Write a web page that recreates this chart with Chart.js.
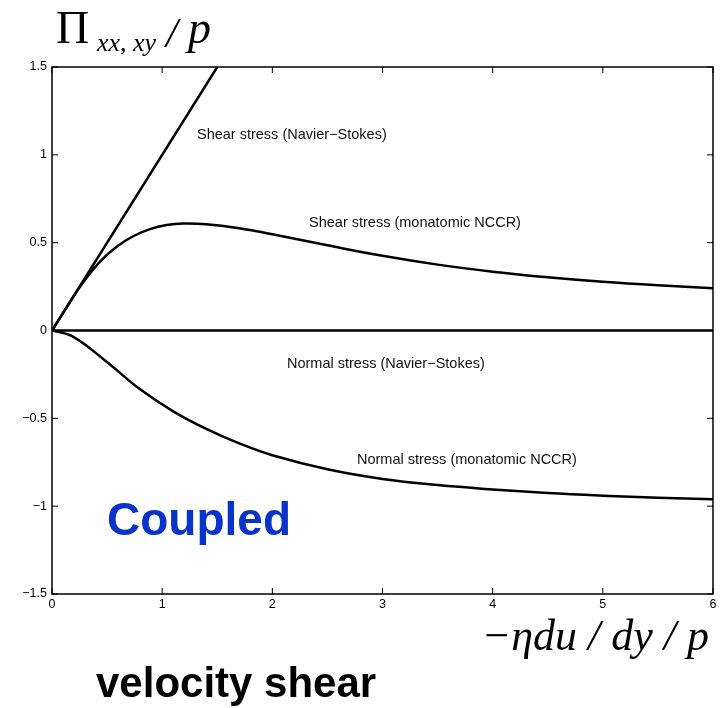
<!DOCTYPE html>
<html>
<head>
<meta charset="utf-8">
<style>
  html, body { margin: 0; padding: 0; background: #fff; }
  canvas { display: block; }
</style>
<script src="https://cdn.jsdelivr.net/npm/chart.js@4/dist/chart.umd.min.js"></script>
</head>
<body>
<canvas id="stressChart" width="720" height="708"></canvas>
<script>
// values
const xTicks = [0, 1, 2, 3, 4, 5, 6];
const yTicks = [-1.5, -1, -0.5, 0, 0.5, 1, 1.5];

const nsShearX = [0, 1.5];
const nsShearY = [0, 1.5];

const nccrShearX = [0, 0.15, 0.28, 0.44, 0.59, 0.74, 0.89, 1.04, 1.19, 1.4, 1.7, 2.0, 2.5, 3.0, 3.5, 4.0, 4.5, 5.0, 5.5, 6.0];
const nccrShearY = [0, 0.149, 0.272, 0.395, 0.478, 0.538, 0.577, 0.600, 0.609, 0.605, 0.582, 0.548, 0.485, 0.425, 0.375, 0.335, 0.303, 0.277, 0.257, 0.241];

const nsNormalX = [0, 6];
const nsNormalY = [0, 0];

const nccrNormalX = [0, 0.19, 0.49, 0.8, 1.1, 1.4, 1.71, 2.0, 2.5, 3.0, 3.5, 4.0, 4.5, 5.0, 5.5, 6.0];
const nccrNormalY = [0, -0.035, -0.175, -0.335, -0.46, -0.56, -0.645, -0.71, -0.79, -0.845, -0.88, -0.905, -0.925, -0.94, -0.952, -0.96];

const curveNames = [
    "Shear stress (Navier\u2212Stokes)",
    "Shear stress (monatomic NCCR)",
    "Normal stress (Navier\u2212Stokes)",
    "Normal stress (monatomic NCCR)"
];

function toPoints(xs, ys) {
    return xs.map((x, i) => ({ x: x, y: ys[i] }));
}

function fmt(v) {
    return v < 0 ? "\u2212" + Math.abs(v) : String(v);
}

// frame, inside ticks and all the text round the plot
const decorations = {
    id: "decorations",
    afterDraw(chart) {
        const ctx = chart.ctx;
        const a = chart.chartArea;
        const sx = chart.scales.x;
        const sy = chart.scales.y;
        ctx.save();
        ctx.strokeStyle = "#000";
        ctx.lineWidth = 1.5;
        ctx.strokeRect(a.left, a.top, a.right - a.left, a.bottom - a.top);

        const t = 6;
        ctx.lineWidth = 1;
        ctx.beginPath();
        xTicks.forEach(v => {
            const px = sx.getPixelForValue(v);
            ctx.moveTo(px, a.bottom); ctx.lineTo(px, a.bottom - t);
            ctx.moveTo(px, a.top); ctx.lineTo(px, a.top + t);
        });
        yTicks.forEach(v => {
            const py = sy.getPixelForValue(v);
            ctx.moveTo(a.left, py); ctx.lineTo(a.left + t, py);
            ctx.moveTo(a.right, py); ctx.lineTo(a.right - t, py);
        });
        ctx.stroke();

        // curve labels, placed in data units
        ctx.fillStyle = "#111";
        ctx.font = "14.5px 'Liberation Sans', Arial, sans-serif";
        ctx.textBaseline = "middle";
        ctx.textAlign = "left";
        const spots = [[1.316, 1.114], [2.333, 0.613], [2.133, -0.19], [2.768, -0.737]];
        curveNames.forEach((name, i) => {
            ctx.fillText(name, sx.getPixelForValue(spots[i][0]), sy.getPixelForValue(spots[i][1]));
        });

        // y title  Pi_{xx,xy} / p
        ctx.fillStyle = "#000";
        ctx.textBaseline = "alphabetic";
        ctx.font = "46px 'Liberation Serif', 'Times New Roman', serif";
        ctx.fillText("\u03A0", 56, 43);
        ctx.font = "italic 26px 'Liberation Serif', 'Times New Roman', serif";
        ctx.fillText("xx, xy", 97, 51);
        ctx.font = "italic 42px 'Liberation Serif', 'Times New Roman', serif";
        ctx.fillText("/", 166, 47);
        ctx.font = "italic 46px 'Liberation Serif', 'Times New Roman', serif";
        ctx.fillText("p", 188, 43);

        // x title
        ctx.textAlign = "right";
        ctx.font = "italic 44px 'Liberation Serif', 'Times New Roman', serif";
        ctx.fillText("\u2212\u03B7du / dy / p", 709, 650);

        // notes
        ctx.textAlign = "left";
        ctx.fillStyle = "#0a33c8";
        ctx.font = "bold 46px 'Liberation Sans', Arial, sans-serif";
        ctx.fillText("Coupled", 107, 535);
        ctx.fillStyle = "#000";
        ctx.font = "bold 42px 'Liberation Sans', Arial, sans-serif";
        ctx.fillText("velocity shear", 96, 697);
        ctx.restore();
    }
};

const lineStyle = {
    borderColor: "#000",
    borderWidth: 2.5,
    pointRadius: 0,
    fill: false
};

new Chart(document.getElementById("stressChart"), {
    type: "line",
    data: {
        datasets: [
            Object.assign({ label: curveNames[0], data: toPoints(nsShearX, nsShearY), tension: 0 }, lineStyle),
            Object.assign({ label: curveNames[1], data: toPoints(nccrShearX, nccrShearY), tension: 0.4 }, lineStyle),
            Object.assign({ label: curveNames[2], data: toPoints(nsNormalX, nsNormalY), tension: 0 }, lineStyle),
            Object.assign({ label: curveNames[3], data: toPoints(nccrNormalX, nccrNormalY), tension: 0.4 }, lineStyle)
        ]
    },
    options: {
        responsive: false,
        devicePixelRatio: 1,
        animation: false,
        layout: { padding: { left: 0, right: 7, top: 67, bottom: 0 } },
        plugins: {
            legend: { display: false },
            tooltip: { enabled: false }
        },
        scales: {
            x: {
                type: "linear",
                min: 0,
                max: 6,
                afterBuildTicks(scale) { scale.ticks = xTicks.map(v => ({ value: v })); },
                afterFit(scale) { scale.height = 114; },
                ticks: {
                    color: "#000",
                    padding: 3,
                    font: { family: "'Liberation Sans', Arial, sans-serif", size: 12.5 },
                    callback: v => fmt(v)
                },
                grid: { display: false, drawTicks: false },
                border: { display: false }
            },
            y: {
                type: "linear",
                min: -1.5,
                max: 1.5,
                afterBuildTicks(scale) { scale.ticks = yTicks.map(v => ({ value: v })); },
                afterFit(scale) { scale.width = 52; },
                ticks: {
                    color: "#000",
                    padding: 5,
                    font: { family: "'Liberation Sans', Arial, sans-serif", size: 12.5 },
                    callback: v => fmt(v)
                },
                grid: { display: false, drawTicks: false },
                border: { display: false }
            }
        }
    },
    plugins: [decorations]
});
</script>
</body>
</html>
